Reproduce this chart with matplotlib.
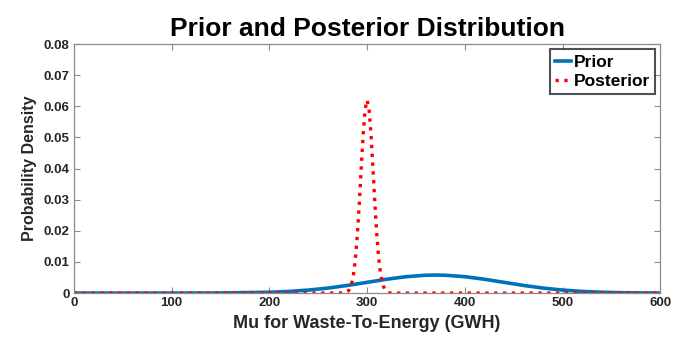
import matplotlib
matplotlib.use("Agg")
import matplotlib.pyplot as plt

# Data
prior_x = [0, 100, 150, 200, 220, 240, 260, 280, 300, 320, 340, 360, 370,
           380, 400, 420, 440, 460, 480, 500, 520, 540, 560, 580, 600]
prior_y = [0.0, 0.0000026, 0.000035, 0.000274, 0.000539, 0.000973, 0.001616,
           0.002465, 0.003457, 0.004454, 0.005274, 0.005739, 0.0058,
           0.005739, 0.005274, 0.004454, 0.003457, 0.002465, 0.001616,
           0.000973, 0.000539, 0.000274, 0.000128, 0.000055, 0.000022]

post_x = [0, 270, 276, 278, 280, 282, 284, 286, 288, 290, 292, 294, 296, 298,
          300, 302, 304, 306, 308, 310, 312, 314, 316, 318, 320, 322, 324, 330, 600]
post_y = [0.0, 0.0, 0.00006, 0.00018, 0.00049, 0.00123, 0.0028, 0.0058, 0.01087,
          0.0185, 0.0286, 0.0401, 0.0511, 0.0591, 0.062, 0.0591, 0.0511, 0.0401,
          0.0286, 0.0185, 0.01087, 0.0058, 0.0028, 0.00123, 0.00049, 0.00018,
          0.00006, 0.0, 0.0]

x_ticks = [0, 100, 200, 300, 400, 500, 600]
y_ticks = [0, 0.01, 0.02, 0.03, 0.04, 0.05, 0.06, 0.07, 0.08]
y_tick_labels = ["0", "0.01", "0.02", "0.03", "0.04", "0.05", "0.06", "0.07", "0.08"]

plt.rcParams['font.family'] = ['Liberation Sans', 'DejaVu Sans']
plt.rcParams['font.weight'] = 'bold'

fig = plt.figure(figsize=(6.9, 3.42), dpi=100)
ax = fig.add_axes([0.107, 0.143, 0.85, 0.728])

ax.plot(prior_x, prior_y, color='#0072BD', lw=2.6, label='Prior')
ax.plot(post_x, post_y, color='#FF0000', lw=2.4, ls=':', label='Posterior')

ax.set_xlim(0, 600)
ax.set_ylim(0, 0.08)
ax.set_xticks(x_ticks)
ax.set_yticks(y_ticks)
ax.set_yticklabels(y_tick_labels)

for s in ax.spines.values():
    s.set_color('#8c8c8c')
    s.set_linewidth(0.9)
ax.tick_params(direction='in', length=4, width=0.8, color='#8c8c8c',
               top=True, right=True, labelsize=9.5, pad=3)
for lab in ax.get_xticklabels() + ax.get_yticklabels():
    lab.set_fontweight('bold')
    lab.set_color('#262626')

ax.set_title('Prior and Posterior Distribution', fontsize=19, fontweight='bold', pad=6)
ax.set_xlabel('Mu for Waste-To-Energy (GWH)', fontsize=13, fontweight='bold',
              color='#262626', labelpad=4)
ax.set_ylabel('Probability Density', fontsize=11.5, fontweight='bold',
              color='#262626', labelpad=5)

leg = ax.legend(loc='upper right', fontsize=12.5, frameon=True, fancybox=False,
                handlelength=0.9, handletextpad=0.15, borderpad=0.3,
                labelspacing=0.25, borderaxespad=0.3)
leg.get_frame().set_edgecolor('#262626')
leg.get_frame().set_linewidth(1.5)
for t in leg.get_texts():
    t.set_fontweight('bold')

fig.savefig('out.png', dpi=100)
